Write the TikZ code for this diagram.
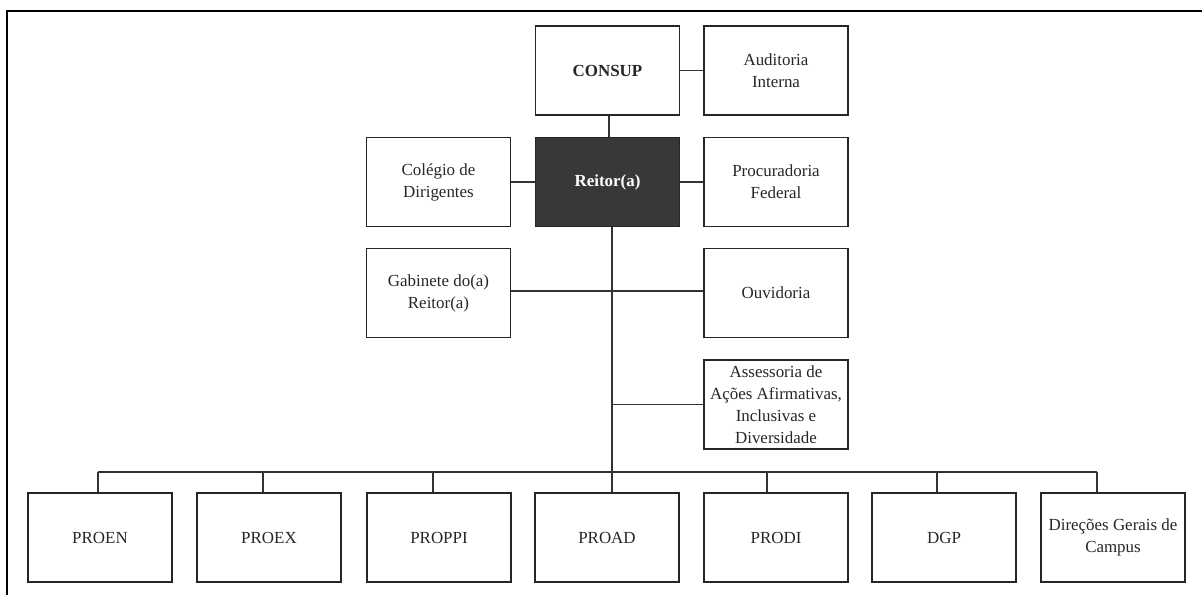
\documentclass[tikz,border=0pt]{standalone}
\usepackage{fontspec}
\setmainfont{Liberation Serif}
\begin{document}
\begin{tikzpicture}[x=1bp,y=-1bp,
  box/.style={draw=black!85,line width=1.3bp,fill=white,minimum width=144bp,minimum height=89bp,
    align=center,inner sep=1bp,font=\fontsize{17}{22}\selectfont,text=black!85},
  darkbox/.style={box,fill=black!78,text=white!92,font=\fontsize{17}{22}\selectfont\bfseries},
  conn/.style={draw=black!80,line width=1.1bp}]
\useasboundingbox (0,0) rectangle (1202,595);
\fill[white] (0,0) rectangle (1202,595);
\draw[line width=2bp] (7,595) -- (7,11) -- (1202,11);

\node[box,font=\fontsize{17}{22}\selectfont\bfseries] (consup) at (607.5,70.5) {CONSUP};
\node[box] (audit) at (776,70.5) {Auditoria\\Interna};
\node[box] (colegio) at (438.5,182) {Colégio de\\Dirigentes};
\node[darkbox] (reitor) at (607.5,182) {Reitor(a)};
\node[box] (procur) at (776,182) {Procuradoria\\Federal};
\node[box] (gab) at (438.5,293) {Gabinete do(a)\\Reitor(a)};
\node[box] (ouv) at (776,293) {Ouvidoria};
\node[box] (ass) at (776,404.5) {Assessoria de\\Ações Afirmativas,\\Inclusivas e\\Diversidade};

\node[box] (proen) at (100,537.5) {PROEN};
\node[box] (proex) at (269,537.5) {PROEX};
\node[box] (proppi) at (439,537.5) {PROPPI};
\node[box] (proad) at (607,537.5) {PROAD};
\node[box] (prodi) at (776,537.5) {PRODI};
\node[box] (dgp) at (944,537.5) {DGP};
\node[box] (dir) at (1113,537.5) {Direções Gerais de\\Campus};

\coordinate (bus) at (0,472);
\coordinate (trunk) at ([xshift=4.5bp]reitor.south);

\draw[conn] ([xshift=1.5bp]consup.south) -- ([xshift=1.5bp]reitor.north);
\draw[conn] (consup.east) -- (audit.west);
\draw[conn] (colegio.east) -- (reitor.west);
\draw[conn] (reitor.east) -- (procur.west);
\draw[conn] (trunk) -- (trunk |- bus);
\draw[conn] ([yshift=2bp]gab.east) -- ([yshift=2bp]ouv.west);
\draw[conn] (ass.west) -- (ass.west -| trunk);

\draw[conn] ([xshift=-2bp]proen.north |- bus) -- ([xshift=-16bp]dir.north |- bus);
\draw[conn] ([xshift=-2bp]proen.north) -- ([xshift=-2bp]proen.north |- bus);
\draw[conn] ([xshift=-6bp]proex.north) -- ([xshift=-6bp]proex.north |- bus);
\draw[conn] ([xshift=-6bp]proppi.north) -- ([xshift=-6bp]proppi.north |- bus);
\draw[conn] ([xshift=5bp]proad.north) -- ([xshift=5bp]proad.north |- bus);
\draw[conn] ([xshift=-9bp]prodi.north) -- ([xshift=-9bp]prodi.north |- bus);
\draw[conn] ([xshift=-7bp]dgp.north) -- ([xshift=-7bp]dgp.north |- bus);
\draw[conn] ([xshift=-16bp]dir.north) -- ([xshift=-16bp]dir.north |- bus);
\end{tikzpicture}
\end{document}
